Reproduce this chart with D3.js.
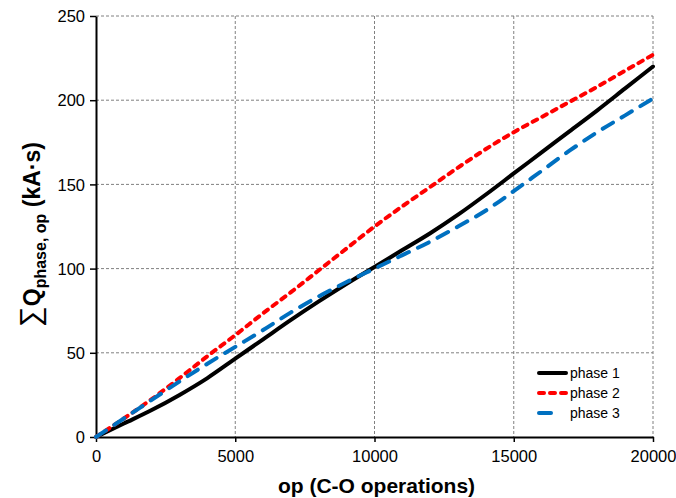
<!DOCTYPE html>
<html>
<head>
<meta charset="utf-8">
<script src="https://cdn.jsdelivr.net/npm/d3@7"></script>
<style>
  body { margin: 0; background: #fff; }
  svg text { font-family: "Liberation Sans", Arial, sans-serif; }
</style>
</head>
<body>
<div id="chart"></div>
<script>
// chart data
var ops = [0, 1000, 2000, 3000, 4000, 5000, 6000, 7000, 8000, 9000, 10000,
           11000, 12000, 13000, 14000, 15000, 16000, 17000, 18000, 19000, 20000];
var phase1 = [0, 8, 16, 25, 35, 46.5, 58, 69.5, 80.5, 91, 101,
              111, 121, 132, 144, 156.5, 169, 181.5, 194, 207, 220];
var phase2 = [0, 11, 22.5, 35, 48, 60.5, 73.5, 86, 99, 112, 125,
              137, 148.5, 160, 171, 181, 190, 199, 208, 217.5, 227];
var phase3 = [0, 11, 22, 33, 43.5, 53.5, 63.5, 74, 83.5, 92, 100,
              108, 116, 125, 134.5, 146, 158, 170, 181, 191, 201];
var seriesNames = ["phase 1", "phase 2", "phase 3"];
var xTicks = [0, 5000, 10000, 15000, 20000];
var yTicks = [0, 50, 100, 150, 200, 250];

var margin = {top: 16, right: 23, bottom: 61, left: 96},
    width = 676 - margin.left - margin.right,
    height = 498 - margin.top - margin.bottom;

var svg = d3.select("#chart")
  .append("svg")
    .attr("width", 676)
    .attr("height", 498)
  .append("g")
    .attr("transform", "translate(" + margin.left + "," + margin.top + ")");

var x = d3.scaleLinear().domain([0, 20000]).range([0, width]);
var y = d3.scaleLinear().domain([0, 250]).range([height, 0]);

// gridlines
svg.append("g").selectAll("line.vg")
  .data(xTicks.slice(1))
  .enter().append("line")
    .attr("x1", d => x(d)).attr("x2", d => x(d))
    .attr("y1", 0).attr("y2", height)
    .attr("stroke", "#808080").attr("stroke-width", 1)
    .attr("stroke-dasharray", "3,2");
svg.append("g").selectAll("line.hg")
  .data(yTicks.slice(1))
  .enter().append("line")
    .attr("x1", 0).attr("x2", width)
    .attr("y1", d => y(d)).attr("y2", d => y(d))
    .attr("stroke", "#808080").attr("stroke-width", 1)
    .attr("stroke-dasharray", "3,2");

// axes
var xAxis = svg.append("g")
  .attr("transform", "translate(0," + height + ")")
  .call(d3.axisBottom(x).tickValues(xTicks).tickFormat(d3.format("d"))
    .tickSize(5).tickSizeOuter(0).tickPadding(8));
var yAxis = svg.append("g")
  .call(d3.axisLeft(y).tickValues(yTicks).tickFormat(d3.format("d"))
    .tickSize(6).tickSizeOuter(0).tickPadding(5));
[xAxis, yAxis].forEach(function (a) {
  a.select(".domain").attr("stroke", "#000").attr("stroke-width", 2);
  a.selectAll(".tick line").attr("stroke", "#000").attr("stroke-width", 1.5);
  a.selectAll(".tick text").attr("fill", "#000")
    .style("font-size", "16.5px")
    .style("font-family", "'Liberation Sans', Arial, sans-serif");
});
yAxis.selectAll(".tick text").attr("dy", "0.35em");

// lines
var line = d3.line()
  .x((d, i) => x(ops[i]))
  .y(d => y(d))
  .curve(d3.curveMonotoneX);

var styles = [
  {data: phase1, color: "#000000", dash: null},
  {data: phase2, color: "#ff0000", dash: "5,6"},
  {data: phase3, color: "#0070c0", dash: "12,10"}
];

styles.forEach(function (s) {
  svg.append("path")
    .datum(s.data)
    .attr("fill", "none")
    .attr("stroke", s.color)
    .attr("stroke-width", 4)
    .attr("stroke-linecap", "round")
    .attr("stroke-dasharray", s.dash)
    .attr("d", line);
});

// legend
var legend = svg.append("g")
  .attr("transform", "translate(" + (537 - margin.left) + "," + (373 - margin.top) + ")");
styles.forEach(function (s, i) {
  var row = legend.append("g").attr("transform", "translate(0," + (i * 20) + ")");
  row.append("line")
    .attr("x1", 2).attr("x2", i == 2 ? 16 : 29)
    .attr("y1", 0).attr("y2", 0)
    .attr("stroke", s.color)
    .attr("stroke-width", 4)
    .attr("stroke-linecap", "round")
    .attr("stroke-dasharray", s.dash);
  row.append("text")
    .attr("x", 33).attr("y", 5)
    .style("font-size", "14px")
    .text(seriesNames[i]);
});

// axis titles
svg.append("text")
  .attr("x", width / 2 + 2)
  .attr("y", height + 56)
  .attr("text-anchor", "middle")
  .style("font-size", "21px")
  .style("font-weight", "bold")
  .text("op (C-O operations)");

var yTitle = svg.append("text")
  .attr("transform", "translate(" + (-56) + "," + (height / 2 + 8) + ") rotate(-90)")
  .attr("text-anchor", "middle")
  .style("font-weight", "bold")
  .style("font-size", "23px");
yTitle.append("tspan").style("font-size", "29px").style("font-weight", "normal").text("∑");
yTitle.append("tspan").text("Q");
yTitle.append("tspan").attr("dy", 6).style("font-size", "16px").text("phase, op");
yTitle.append("tspan").attr("dy", -6).text(" (kA·s)");
</script>
</body>
</html>
